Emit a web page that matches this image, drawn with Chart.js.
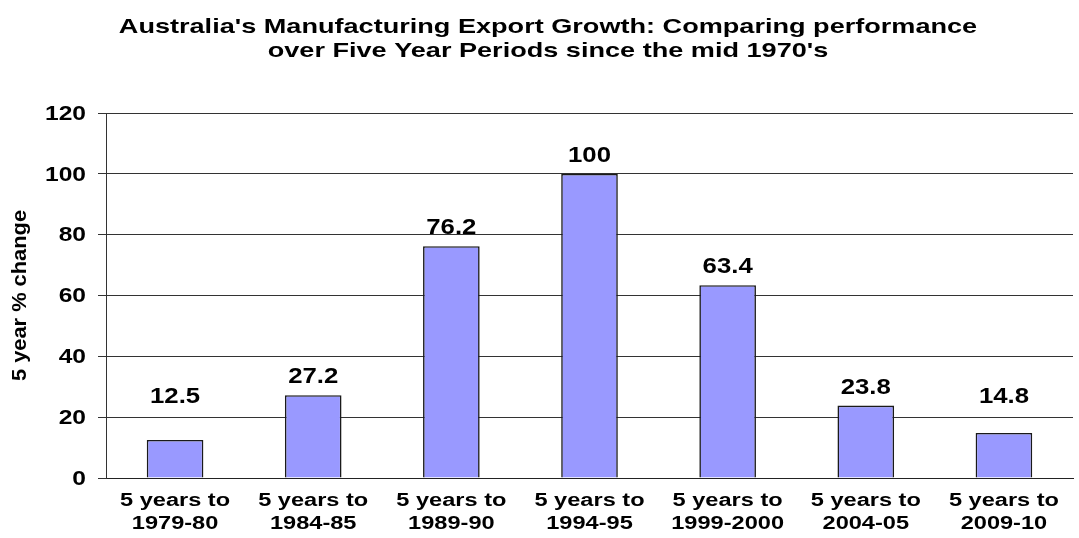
<!DOCTYPE html>
<html>
  <head>
    <meta charset="UTF-8">
    <title>Australia's Manufacturing Export Growth</title>
    <script src="https://cdn.jsdelivr.net/npm/chart.js"></script>
    <style>
      html, body { margin: 0; padding: 0; background: #fff; }
      #wrap { width: 1079px; height: 538px; }
    </style>
  </head>
  <body>
    <div id="wrap"><canvas id="myChart" width="1079" height="538"></canvas></div>

    <script>
      // chart data
      const periods = [
        ['5 years to', '1979-80'],
        ['5 years to', '1984-85'],
        ['5 years to', '1989-90'],
        ['5 years to', '1994-95'],
        ['5 years to', '1999-2000'],
        ['5 years to', '2004-05'],
        ['5 years to', '2009-10']
      ];
      const growth = [12.5, 27.2, 76.2, 100, 63.4, 23.8, 14.8];
      const yTicks = [0, 20, 40, 60, 80, 100, 120];
      const titleLines = ["Australia's Manufacturing Export Growth: Comparing performance",
                          "over Five Year Periods since the mid 1970's"];
      const yTitle = '5 year % change';

      const FONT = 'Arial, "Liberation Sans", sans-serif';

      // the original picture has wide, stretched lettering, so text is drawn
      // with a horizontal scale factor
      function wideText(ctx, text, x, y, size, sx, align, baseline) {
        ctx.save();
        ctx.font = 'bold ' + size + 'px ' + FONT;
        ctx.fillStyle = '#000';
        ctx.textAlign = align;
        ctx.textBaseline = baseline;
        ctx.translate(x, y);
        ctx.scale(sx, 1);
        ctx.fillText(text, 0, 0);
        ctx.restore();
      }

      const textLayer = {
        id: 'textLayer',
        afterDraw(chart) {
          const ctx = chart.ctx;
          const xs = chart.scales.x, ys = chart.scales.y;

          // title
          titleLines.forEach((t, i) => wideText(ctx, t, 548, 33 + i * 24, 21, 1.29, 'center', 'alphabetic'));

          // y axis title
          ctx.save();
          ctx.translate(26, (chart.chartArea.top + chart.chartArea.bottom) / 2);
          ctx.rotate(-Math.PI / 2);
          wideText(ctx, yTitle, 0, 0, 21, 1.04, 'center', 'alphabetic');
          ctx.restore();

          // y tick labels
          ys.ticks.forEach((t, i) => {
            wideText(ctx, String(t.value), 86, ys.getPixelForTick(i) + 1, 21, 1.17, 'right', 'middle');
          });

          // x tick labels
          periods.forEach((lines, i) => {
            const x = xs.getPixelForTick(i);
            lines.forEach((l, j) => wideText(ctx, l, x, chart.chartArea.bottom + 28 + j * 23, 18, 1.31, 'center', 'alphabetic'));
          });

          // value labels above the bars (short bars keep clear of the 20 gridline)
          const meta = chart.getDatasetMeta(0);
          meta.data.forEach((bar, i) => {
            const by = Math.min(bar.y - 12, ys.getPixelForValue(20) - 14);
            wideText(ctx, String(growth[i]), bar.x, by, 22, 1.17, 'center', 'alphabetic');
          });
        }
      };

      const ctx = document.getElementById('myChart').getContext('2d');
      new Chart(ctx, {
        type: 'bar',
        data: {
          labels: periods,
          datasets: [{
            label: yTitle,
            data: growth,
            backgroundColor: '#9999FF',
            borderColor: '#1a1a1a',
            borderWidth: 1.6,
            categoryPercentage: 1,
            barPercentage: 0.41
          }]
        },
        options: {
          responsive: false,
          animation: false,
          layout: { padding: { left: 0, right: 6, top: 113, bottom: 0 } },
          plugins: {
            legend: { display: false },
            tooltip: { enabled: false },
            title: { display: false }
          },
          scales: {
            x: {
              grid: { display: false, drawTicks: false },
              border: { display: true, color: '#222' },
              ticks: { display: false, autoSkip: false },
              afterFit(s) { s.height = 60; }
            },
            y: {
              min: 0,
              max: 120,
              afterBuildTicks(s) { s.ticks = yTicks.map(v => ({ value: v })); },
              grid: { color: '#333', lineWidth: 1, tickLength: 8, drawTicks: true },
              border: { display: true, color: '#333' },
              ticks: { display: false },
              afterFit(s) { s.width = 106; }
            }
          }
        },
        plugins: [textLayer]
      });
    </script>
  </body>
</html>
